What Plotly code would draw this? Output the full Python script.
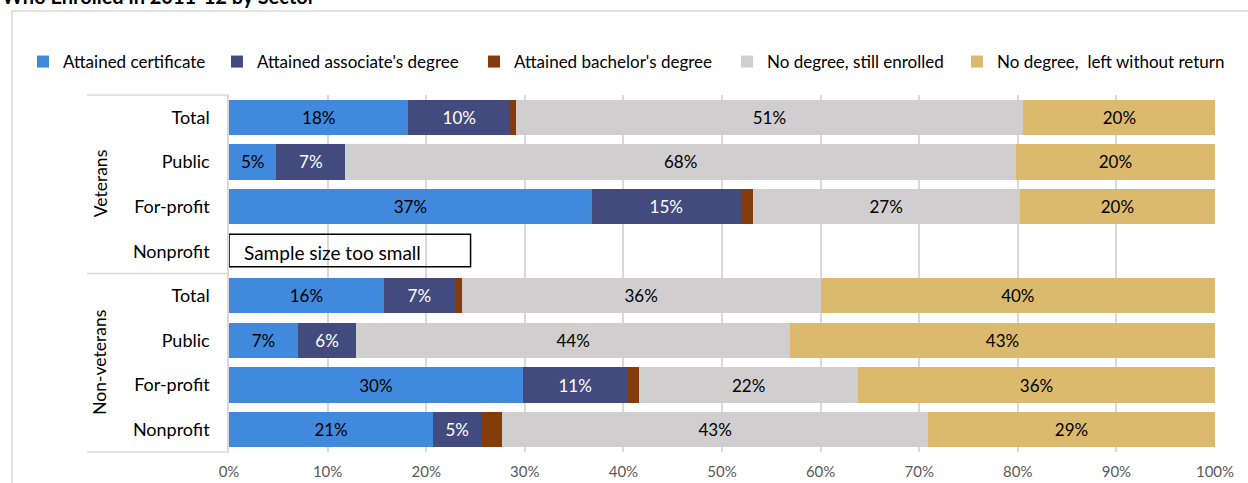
import plotly.graph_objects as go

# Rows, top to bottom
groups = ["Veterans", "Non-veterans"]
sectors = ["Total", "Public", "For-profit", "Nonprofit",
           "Total", "Public", "For-profit", "Nonprofit"]

# Outcome shares (%) per row; the veterans' nonprofit row has no data
certificate = [18.2, 4.8, 36.8, None, 15.7, 7.0, 29.8, 20.7]
associate   = [10.3, 7.0, 15.1, None, 7.2, 5.9, 10.6, 4.9]
bachelor    = [0.6, 0.0, 1.2, None, 0.7, 0.0, 1.2, 2.1]
still_enr   = [51.4, 68.0, 27.1, None, 36.4, 44.0, 22.2, 43.2]
left_noret  = [19.6, 20.2, 19.8, None, 40.0, 43.1, 36.2, 29.1]

series = [
    ("Attained certificate", certificate, "#4189DC", "#000000", True),
    ("Attained associate's degree", associate, "#434B7E", "#FFFFFF", True),
    ("Attained bachelor's degree", bachelor, "#843C0C", "#FFFFFF", False),
    ("No degree, still enrolled", still_enr, "#D0CECE", "#000000", True),
    ("No degree,  left without return", left_noret, "#DBBA6E", "#000000", True),
]

tick_vals = [0, 10, 20, 30, 40, 50, 60, 70, 80, 90, 100]
tick_text = [f"{v}%" for v in tick_vals]

W, H = 1248, 483
ML, MR, MT, MB = 229, 33, 95, 31
PW, PH = W - ML - MR, H - MT - MB


def px_x(p):
    return (p - ML) / PW


def px_y(p):
    return (H - MB - p) / PH


FONT = "Lato"
rows = list(range(len(sectors)))

fig = go.Figure()
legend_text_x = [63, 257, 514, 767, 997]
for i, (name, vals, color, tcolor, show_text) in enumerate(series):
    lg = "legend" if i == 0 else f"legend{i + 1}"
    fig.add_trace(go.Bar(
        name=name, y=rows, x=vals, orientation="h",
        marker=dict(color=color, line=dict(width=0)),
        width=0.79,
        texttemplate="%{x:.0f}%" if show_text else None,
        textposition="inside" if show_text else "none",
        insidetextanchor="middle",
        constraintext="none",
        textangle=0,
        insidetextfont=dict(family=FONT, size=17, color=tcolor),
        legend=lg,
        hoverinfo="skip",
    ))

layout_legends = {}
for i, tx in enumerate(legend_text_x):
    key = "legend" if i == 0 else f"legend{i + 1}"
    layout_legends[key] = dict(
        x=px_x(tx - 40), xanchor="left",
        y=px_y(62), yanchor="middle",
        orientation="h", bgcolor="rgba(0,0,0,0)", borderwidth=0,
        font=dict(family=FONT, size=17, color="#000000"),
    )

shapes = [
    # chart area border (top and left edges)
    dict(type="line", xref="paper", yref="paper",
         x0=px_x(12), x1=px_x(1300), y0=px_y(11), y1=px_y(11),
         line=dict(color="#D9D9D9", width=1.5)),
    dict(type="line", xref="paper", yref="paper",
         x0=px_x(12), x1=px_x(12), y0=px_y(11), y1=px_y(520),
         line=dict(color="#D9D9D9", width=1.5)),
]
# group divider lines of the category table
for yp in (1.0, 0.5, 0.0):
    shapes.append(dict(type="line", xref="paper", yref="paper",
                       x0=px_x(87), x1=0, y0=yp, y1=yp,
                       line=dict(color="#D9D9D9", width=1.5)))
# note box on the row without data
shapes.append(dict(type="rect", xref="x", yref="y",
                   x0=0, x1=24.5, y0=2.62, y1=3.35,
                   line=dict(color="#000000", width=1.5),
                   fillcolor="rgba(0,0,0,0)"))

annotations = [
    dict(text="<b>Who Enrolled in 2011-12 by Sector</b>",
         xref="paper", yref="paper", x=px_x(0), y=px_y(-4),
         xanchor="left", yanchor="middle", showarrow=False,
         font=dict(family=FONT, size=20, color="#000000")),
    dict(text="Sample size too small", xref="x", yref="y",
         x=1.3, y=3.02, xanchor="left", yanchor="middle", showarrow=False,
         font=dict(family=FONT, size=19, color="#000000")),
]
for gi, g in enumerate(groups):
    annotations.append(dict(
        text=g, xref="paper", yref="paper",
        x=px_x(100), y=0.75 - 0.5 * gi, textangle=-90,
        xanchor="center", yanchor="middle", showarrow=False,
        font=dict(family=FONT, size=17.5, color="#000000")))

fig.update_layout(
    width=W, height=H,
    margin=dict(l=ML, r=MR, t=MT, b=MB, pad=0, autoexpand=False),
    barmode="stack",
    paper_bgcolor="#FFFFFF", plot_bgcolor="#FFFFFF",
    font=dict(family=FONT, color="#000000"),
    xaxis=dict(range=[0, 100], tickvals=tick_vals, ticktext=tick_text,
               showgrid=True, gridcolor="#D9D9D9", gridwidth=1.5,
               zeroline=False, showline=False, ticks="",
               ticklabelstandoff=9, automargin=False,
               tickfont=dict(family=FONT, size=15, color="#595959"),
               fixedrange=True),
    yaxis=dict(range=[7.5, -0.5], tickvals=rows, ticktext=sectors,
               showgrid=False, zeroline=False, showline=True,
               linecolor="#D9D9D9", linewidth=1.5, ticks="",
               ticklabelstandoff=14, automargin=False,
               tickfont=dict(family=FONT, size=18, color="#000000"),
               fixedrange=True),
    shapes=shapes, annotations=annotations,
    showlegend=True,
    **layout_legends,
)

fig.write_html("out.html")
